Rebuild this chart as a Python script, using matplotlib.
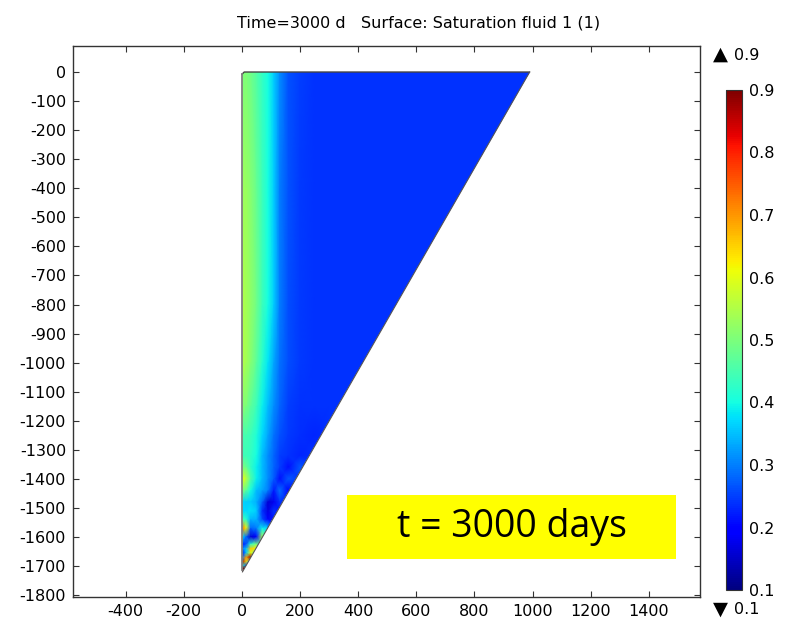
import matplotlib
matplotlib.use('Agg')
import matplotlib.pyplot as plt
import numpy as np
from matplotlib.colors import Normalize
from matplotlib.patches import Polygon, Rectangle

plt.rcParams['font.family'] = 'DejaVu Sans'
plt.rcParams['axes.unicode_minus'] = False

W, H = 788, 621

title = 'Time=3000 d   Surface: Saturation fluid 1 (1)'
label = 't = 3000 days'
x_ticks = list(range(-400, 1401, 200))
y_ticks = list(range(0, -1801, -100))
bar_ticks = [0.1, 0.2, 0.3, 0.4, 0.5, 0.6, 0.7, 0.8, 0.9]
max_value = 0.9
min_value = 0.1

# domain of the surface, corner at top left is slightly rounded
domain_x = [0, 8, 990, 2, 0, 0]
domain_y = [-8, 0, 0, -1720, -1712, -8]

# saturation, rows = depth, columns = x
sat_x = [0, 15, 30, 50, 70, 90, 110, 130, 160, 200, 250, 300, 400, 1000]
sat_y = [0, -400, -800, -1000, -1150, -1250, -1320, -1360, -1400, -1440, -1480,
         -1510, -1540, -1570, -1600, -1625, -1640, -1655, -1670, -1685, -1698,
         -1708, -1720]
sat = [
    [.50, .50, .49, .46, .43, .40, .36, .31, .265, .25, .24, .24, .24, .24],
    [.53, .53, .51, .48, .44, .40, .36, .30, .265, .245, .24, .24, .24, .24],
    [.55, .54, .52, .49, .44, .40, .36, .30, .26, .245, .24, .24, .24, .24],
    [.55, .54, .51, .47, .42, .38, .33, .29, .26, .245, .24, .24, .24, .24],
    [.51, .50, .47, .44, .39, .35, .31, .28, .25, .24, .24, .24, .24, .24],
    [.45, .45, .44, .41, .37, .33, .29, .265, .245, .235, .23, .24, .24, .24],
    [.44, .44, .43, .40, .35, .31, .28, .25, .24, .23, .24, .24, .24, .24],
    [.50, .48, .43, .39, .35, .31, .28, .25, .21, .27, .24, .24, .24, .24],
    [.60, .56, .46, .39, .35, .31, .27, .21, .27, .24, .24, .24, .24, .24],
    [.50, .47, .40, .35, .33, .30, .22, .29, .20, .24, .24, .24, .24, .24],
    [.37, .36, .36, .34, .28, .16, .18, .24, .24, .24, .24, .24, .24, .24],
    [.37, .37, .38, .36, .24, .17, .24, .21, .24, .24, .24, .24, .24, .24],
    [.46, .42, .34, .34, .26, .20, .22, .24, .24, .24, .24, .24, .24, .24],
    [.74, .62, .28, .30, .39, .36, .20, .24, .24, .24, .24, .24, .24, .24],
    [.38, .28, .16, .20, .55, .40, .24, .24, .24, .24, .24, .24, .24, .24],
    [.22, .26, .42, .50, .35, .24, .24, .24, .24, .24, .24, .24, .24, .24],
    [.30, .35, .66, .62, .30, .24, .24, .24, .24, .24, .24, .24, .24, .24],
    [.18, .36, .60, .45, .24, .24, .24, .24, .24, .24, .24, .24, .24, .24],
    [.30, .70, .88, .60, .24, .24, .24, .24, .24, .24, .24, .24, .24, .24],
    [.88, .65, .40, .24, .24, .24, .24, .24, .24, .24, .24, .24, .24, .24],
    [.45, .28, .30, .24, .24, .24, .24, .24, .24, .24, .24, .24, .24, .24],
    [.90, .90, .30, .24, .24, .24, .24, .24, .24, .24, .24, .24, .24, .24],
    [.90, .90, .30, .24, .24, .24, .24, .24, .24, .24, .24, .24, .24, .24],
]

fig = plt.figure(figsize=(W / 100, H / 100), dpi=100)


def box(l, t, r, b):
    return [l / W, 1 - b / H, (r - l) / W, (b - t) / H]


ax = fig.add_axes(box(73, 46.3, 700, 597.3))
ax.set_xlim(-581, 1576)
ax.set_ylim(-1807.5, 88.5)

norm = Normalize(min_value, max_value)
mesh = ax.pcolormesh(sat_x, sat_y, np.array(sat), cmap='jet', norm=norm, shading='gouraud')
clip = Polygon(np.column_stack([domain_x, domain_y]), closed=True, transform=ax.transData,
               fill=False, edgecolor='none')
ax.add_patch(clip)
mesh.set_clip_path(clip)

# outline: dark on top, grey along the wall and the slope
ax.plot(domain_x[:3], domain_y[:3], color='#444444', lw=1.0, solid_capstyle='round')
ax.plot(domain_x[2:4], domain_y[2:4], color='#555555', lw=0.8)
ax.plot(domain_x[4:], domain_y[4:], color='#808080', lw=1.3)

ax.set_xticks(x_ticks)
ax.set_yticks(y_ticks)
ax.tick_params(direction='in', top=True, right=True, length=4, width=0.8, color='#333333',
               labelsize=11.5, pad=5)
for s in ax.spines.values():
    s.set_color('#333333')
    s.set_linewidth(1.0)

fig.text(419 / W, 1 - 22.5 / H, title, ha='center', va='center', fontsize=11.5)

# yellow label box
ax.add_patch(Rectangle((361, -1675), 1132, 219, facecolor='#ffff00', edgecolor='none', zorder=3))
ax.text(930, -1565, label, ha='center', va='center', fontsize=27, family='Open Sans', zorder=4)

# colour bar
cax = fig.add_axes(box(726, 90, 742, 590))
cb = fig.colorbar(mesh, cax=cax)
cb.set_ticks(bar_ticks)
cb.set_ticklabels([str(v) for v in bar_ticks])
cax.tick_params(length=0, labelsize=11.5, pad=5)
cb.outline.set_edgecolor('#333333')
cb.outline.set_linewidth(0.8)

# max and min markers
fig.text(720 / W, 1 - 54 / H, '\u25b2', ha='center', va='center', fontsize=14)
fig.text(734 / W, 1 - 55 / H, str(max_value), ha='left', va='center', fontsize=11.5)
fig.text(720 / W, 1 - 609 / H, '\u25bc', ha='center', va='center', fontsize=14)
fig.text(734 / W, 1 - 610 / H, str(min_value), ha='left', va='center', fontsize=11.5)

plt.savefig('out.png', dpi=100)
